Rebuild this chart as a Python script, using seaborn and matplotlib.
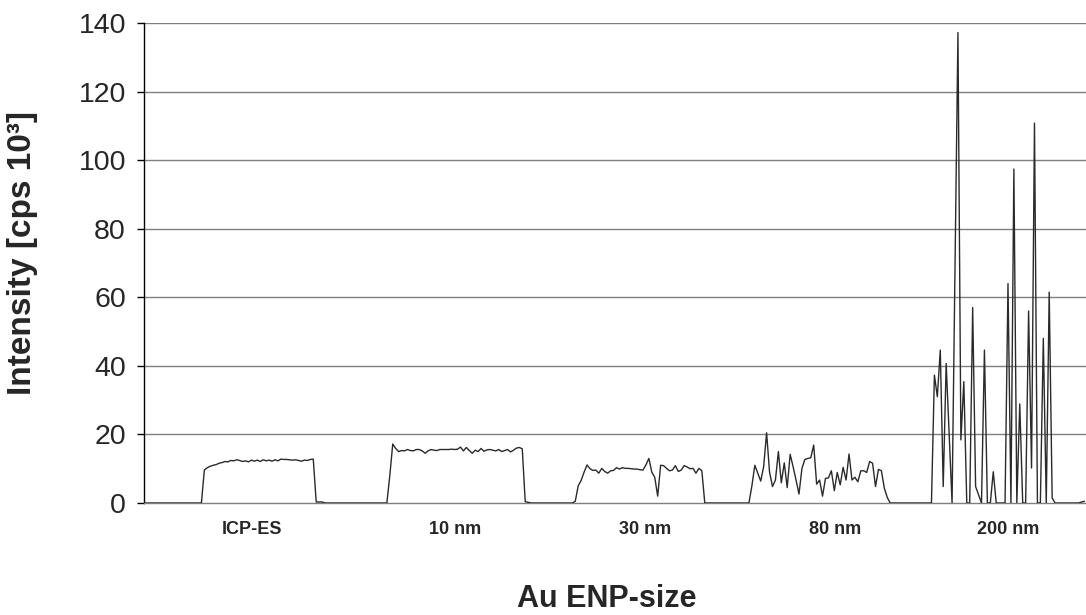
# ------------------------
# import packages
# ------------------------
import numpy as np
import pandas as pd
import matplotlib
matplotlib.use("Agg")
import matplotlib.pyplot as plt
import seaborn as sns

# ------------------------
# data, one value per sample
# ------------------------
lead_zeros = [0, 0, 0, 0, 0, 0, 0, 0, 0, 0, 0, 0, 0, 0, 0, 0, 0, 0, 0, 0]
icp_es = [9.6, 10.3, 10.7, 11.0, 11.2, 11.6, 11.8, 12.1, 12.0, 12.4, 12.3, 12.6, 12.4,
          12.1, 12.3, 12.0, 12.5, 12.2, 12.5, 12.1, 12.6, 12.3, 12.5, 12.2, 12.6, 12.3,
          12.8, 12.7, 12.7, 12.6, 12.5, 12.6, 12.4, 12.2, 12.5, 12.4, 12.7, 12.8,
          0.3, 0.3, 0.3]
gap_1 = [0, 0, 0, 0, 0, 0, 0, 0, 0, 0, 0, 0, 0, 0, 0, 0, 0, 0, 0, 0, 0, 0]
nm_10 = [8.0, 17.2, 15.9, 15.0, 15.3, 15.2, 15.6, 15.3, 15.2, 15.6, 15.6, 15.2, 14.5,
         15.2, 15.6, 15.4, 15.3, 15.6, 15.6, 15.6, 15.6, 15.7, 15.6, 15.7, 16.3, 15.2,
         16.2, 15.3, 14.5, 15.4, 15.0, 15.9, 15.1, 15.5, 15.6, 15.4, 15.2, 15.6, 15.0,
         15.3, 15.6, 14.9, 15.4, 16.0, 16.2, 15.8, 0.4, 0.2]
gap_2 = [0, 0, 0, 0, 0, 0, 0, 0, 0, 0, 0, 0, 0, 0, 0]
nm_30 = [0.5, 5.0, 6.6, 9.0, 11.1, 10.0, 9.5, 9.6, 8.7, 10.1, 9.2, 8.7, 9.4, 9.5, 10.3,
         9.9, 10.3, 10.1, 10.1, 10.0, 9.9, 9.9, 9.7, 9.6, 11.1, 13.0, 9.0, 7.5, 2.0,
         11.0, 10.9, 10.1, 9.4, 9.6, 10.9, 9.2, 9.6, 10.9, 10.5, 10.0, 10.1, 8.7, 10.1,
         9.4]
gap_3 = [0, 0, 0, 0, 0, 0, 0, 0, 0, 0, 0, 0, 0, 0, 0, 0]
nm_80 = [5.0, 11.0, 8.7, 6.4, 10.6, 20.5, 9.0, 4.8, 6.7, 15.0, 5.9, 11.7, 4.5, 14.2,
         10.6, 6.7, 2.6, 10.1, 12.7, 13.0, 13.2, 16.9, 5.5, 6.7, 2.0, 7.2, 7.3, 9.4, 3.6,
         8.9, 5.3, 10.4, 6.7, 14.3, 6.7, 7.5, 6.2, 9.4, 9.4, 8.9, 12.1, 11.6, 4.8, 9.8,
         9.4, 4.3, 1.6]
gap_4 = [0, 0, 0, 0, 0, 0, 0, 0, 0, 0, 0, 0, 0, 0, 0]
nm_200 = [37.3, 31.0, 44.6, 4.8, 40.7, 20.3, 0, 68.6, 137.2, 18.4, 35.4, 0, 0, 57.0,
          4.8, 2.4, 0, 44.6, 0, 0, 9.1, 0, 0, 0, 0, 64.0, 0, 97.4, 0, 28.9, 0, 0, 56.0,
          10.2, 110.8, 0, 0, 48.0, 0, 61.5, 1.5, 0]
tail = [0, 0, 0, 0, 0, 0, 0, 0, 0.3, 0.5]

size_labels = ["ICP-ES", "10 nm", "30 nm", "80 nm", "200 nm"]
label_sample = [36.2, 105.3, 169.9, 234.2, 293.0]
y_ticks = [0, 20, 40, 60, 80, 100, 120, 140]

# ------------------------
# process data
# ------------------------
intensity = np.array(lead_zeros + icp_es + gap_1 + nm_10 + gap_2 + nm_30 + gap_3
                     + nm_80 + gap_4 + nm_200 + tail, dtype=float)
dta = pd.DataFrame({"sample": np.arange(len(intensity)), "intensity": intensity})

# ------------------------
# plot
# ------------------------
sns.set_style("white")
plt.rcParams['font.family'] = ['Liberation Sans', 'DejaVu Sans']

fig = plt.figure(figsize=(10.86, 6.15), dpi=100)
ax = fig.add_axes([144 / 1086, 112 / 615, 942 / 1086, 480 / 615])

for yv in y_ticks[1:]:
    ax.axhline(yv, color="#7f7f7f", lw=1.0, zorder=1)

sns.lineplot(data=dta, x="sample", y="intensity", ax=ax, color="#2a2a2a",
             lw=1.0, estimator=None, zorder=3)

ax.set_xlim(-0.5, len(intensity) - 0.5)
ax.set_ylim(0, 140)
ax.set_yticks(y_ticks)
ax.set_yticklabels([str(v) for v in y_ticks], fontsize=20.5)
ax.set_xticks(label_sample)
ax.set_xticklabels(size_labels, fontsize=13, fontweight="bold")
ax.set_xticks([-0.5], minor=True)
ax.tick_params(axis="x", which="major", length=0, pad=13)
ax.tick_params(axis="x", which="minor", length=6, width=1, color="black", direction="out")
ax.tick_params(axis="y", length=5, width=1, color="black", direction="out", pad=8, left=True)

for side in ["top", "right"]:
    ax.spines[side].set_visible(False)
ax.spines["left"].set_color("black")
ax.spines["left"].set_linewidth(1.0)
ax.spines["bottom"].set_color("#7f7f7f")
ax.spines["bottom"].set_linewidth(1.0)

ax.set_xlabel("Au ENP-size", fontsize=22, fontweight="bold")
ax.xaxis.set_label_coords(0.4915, -0.168)
ax.set_ylabel("Intensity [cps 10³]", fontsize=24, fontweight="bold")
ax.yaxis.set_label_coords(-0.112, 0.52)

fig.savefig("out.png", dpi=100)
